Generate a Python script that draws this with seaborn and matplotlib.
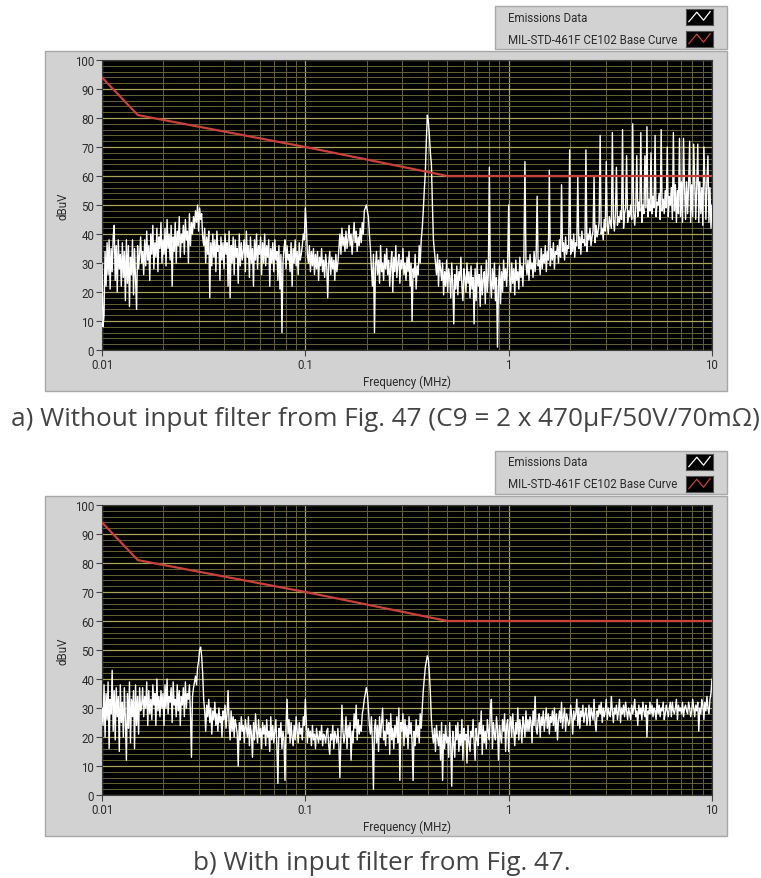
import numpy as np
import pandas as pd
import matplotlib
matplotlib.use('Agg')
import matplotlib.pyplot as plt
from matplotlib.patches import Rectangle
from matplotlib.ticker import FixedLocator, FixedFormatter, LogLocator, MultipleLocator, NullFormatter
import seaborn as sns

# receiver sweep points: 200 per decade, 10 kHz .. 10 MHz
freq_mhz = np.logspace(-2, 1, 601)

# a) without input filter (dBuV), one row = 0.1 decade
emis_no_filter = [
    30, 8, 12, 34, 22, 37, 26, 38, 21, 35, 27, 39, 43, 24, 36, 20, 38, 28, 33, 22,   # 0.0100
    37, 25, 34, 17, 38, 23, 36, 15, 32, 26, 38, 19, 35, 24, 14, 36, 28, 33, 39, 30,  # 0.0126
    34, 26, 38, 29, 41, 31, 36, 24, 40, 33, 43, 28, 37, 32, 42, 27, 39, 35, 44, 30,  # 0.0158
    38, 33, 42, 29, 45, 35, 40, 31, 43, 22, 39, 34, 44, 30, 41, 36, 46, 32, 40, 37,  # 0.0200
    43, 33, 45, 38, 41, 30, 47, 36, 44, 40, 46, 42, 48, 44, 50, 41, 49, 45, 47, 39,  # 0.0251
    36, 42, 30, 39, 33, 41, 18, 37, 29, 40, 32, 38, 27, 41, 34, 36, 24, 39, 31, 37,  # 0.0316
    28, 40, 33, 37, 22, 41, 18, 36, 30, 39, 26, 38, 32, 35, 23, 40, 29, 37, 31, 34,  # 0.0398
    38, 27, 41, 32, 36, 25, 39, 30, 35, 22, 38, 31, 40, 28, 36, 33, 39, 26, 37, 30,  # 0.0501
    40, 29, 36, 32, 38, 22, 35, 30, 37, 27, 38, 31, 34, 24, 36, 21, 33, 6, 30, 35,   # 0.0631
    38, 28, 36, 31, 33, 27, 37, 22, 35, 30, 38, 29, 34, 26, 37, 31, 33, 36, 40, 38,  # 0.0794
    49, 43, 33, 30, 36, 27, 34, 29, 35, 26, 33, 28, 34, 24, 32, 29, 35, 27, 31, 25,  # 0.100
    33, 29, 18, 30, 34, 26, 32, 28, 31, 24, 33, 27, 30, 35, 40, 33, 42, 36, 39, 34,  # 0.126
    41, 35, 38, 43, 36, 40, 33, 39, 44, 37, 41, 34, 39, 36, 42, 37, 44, 40, 48, 49,  # 0.158
    50, 48, 46, 40, 35, 28, 22, 33, 6, 29, 34, 26, 31, 23, 36, 27, 30, 24, 33, 28,   # 0.200
    35, 26, 31, 22, 29, 34, 20, 32, 27, 36, 25, 30, 33, 23, 31, 28, 35, 26, 30, 24,  # 0.251
    32, 27, 34, 22, 30, 10, 28, 25, 33, 21, 29, 26, 36, 30, 38, 42, 48, 55, 61, 72,  # 0.316
    81, 79, 74, 68, 64, 50, 38, 34, 30, 26, 33, 22, 31, 28, 24, 30, 19, 27, 22, 31,  # 0.398
    20, 28, 25, 18, 30, 23, 9, 26, 21, 29, 19, 27, 24, 32, 22, 17, 28, 25, 20, 30,   # 0.501
    23, 27, 18, 29, 21, 25, 9, 28, 17, 30, 22, 26, 15, 29, 19, 24, 27, 16, 31, 20,   # 0.631
    26, 63, 24, 18, 28, 21, 30, 17, 25, 1, 22, 29, 16, 27, 20, 31, 24, 28, 22, 30,   # 0.794
    50, 25, 20, 30, 23, 28, 19, 31, 24, 27, 21, 32, 25, 29, 22, 33, 65, 30, 26, 31,  # 1.00
    24, 33, 28, 30, 25, 34, 27, 32, 53, 29, 31, 26, 35, 28, 33, 30, 36, 27, 34, 31,  # 1.26
    62, 29, 35, 31, 37, 28, 34, 33, 36, 30, 38, 32, 57, 34, 37, 31, 39, 33, 36, 35,  # 1.58
    69, 33, 38, 34, 40, 32, 37, 36, 60, 35, 39, 33, 41, 37, 38, 36, 69, 34, 40, 38,  # 2.00
    42, 36, 39, 41, 60, 37, 43, 39, 41, 44, 74, 40, 42, 38, 45, 41, 65, 43, 40, 46,  # 2.51
    44, 42, 75, 45, 41, 47, 63, 43, 46, 44, 48, 45, 76, 42, 47, 49, 67, 44, 48, 46,  # 3.16
    50, 45, 78, 47, 43, 49, 67, 46, 51, 48, 75, 44, 50, 47, 67, 49, 77, 46, 52, 48,  # 3.98
    68, 47, 53, 49, 74, 46, 51, 50, 54, 45, 76, 48, 52, 47, 55, 49, 70, 46, 53, 50,  # 5.01
    56, 45, 75, 48, 57, 44, 55, 47, 73, 46, 58, 44, 73, 56, 45, 58, 47, 57, 72, 44,  # 6.31
    57, 46, 71, 58, 45, 57, 71, 44, 58, 47, 56, 43, 70, 57, 45, 58, 67, 44, 56, 42,  # 7.94
    50,
]

# b) with input filter (dBuV)
emis_with_filter = [
    30, 24, 38, 20, 35, 26, 39, 16, 33, 28, 43, 22, 36, 19, 37, 27, 34, 15, 38, 25,  # 0.0100
    32, 20, 37, 26, 12, 35, 23, 39, 18, 33, 27, 36, 16, 38, 24, 34, 21, 37, 29, 31,  # 0.0126
    37, 27, 34, 30, 39, 24, 36, 28, 33, 26, 38, 31, 35, 24, 40, 29, 34, 27, 36, 30,  # 0.0158
    35, 24, 38, 30, 40, 28, 34, 32, 37, 25, 39, 31, 33, 27, 38, 29, 36, 24, 34, 31,  # 0.0200
    37, 27, 39, 30, 35, 33, 38, 28, 13, 34, 37, 39, 41, 38, 44, 46, 50, 51, 48, 42,  # 0.0251
    33, 29, 22, 31, 27, 33, 25, 30, 21, 29, 26, 32, 24, 28, 22, 30, 25, 27, 20, 29,  # 0.0316
    26, 31, 23, 28, 36, 25, 19, 29, 22, 27, 20, 26, 24, 21, 10, 25, 19, 27, 22, 24,  # 0.0398
    18, 26, 23, 20, 27, 17, 24, 21, 13, 25, 19, 28, 22, 18, 26, 20, 23, 16, 25, 21,  # 0.0501
    24, 17, 26, 20, 22, 15, 27, 19, 24, 18, 22, 26, 17, 4, 23, 20, 25, 16, 22, 19,   # 0.0631
    5, 24, 33, 21, 26, 18, 25, 20, 17, 24, 19, 27, 22, 18, 25, 21, 23, 19, 27, 24,   # 0.0794
    33, 25, 18, 23, 20, 22, 17, 24, 19, 21, 16, 23, 20, 18, 22, 19, 24, 17, 21, 20,  # 0.100
    18, 22, 23, 17, 14, 21, 19, 24, 16, 22, 20, 18, 23, 17, 6, 20, 31, 22, 18, 21,   # 0.126
    27, 16, 24, 20, 25, 12, 22, 18, 28, 23, 31, 19, 26, 21, 24, 22, 28, 30, 33, 35,  # 0.158
    37, 35, 30, 24, 21, 27, 18, 2, 23, 26, 18, 24, 15, 27, 20, 25, 30, 19, 22, 17,   # 0.200
    26, 21, 25, 14, 28, 19, 23, 16, 24, 20, 27, 18, 30, 5, 25, 22, 28, 17, 26, 20,   # 0.251
    24, 16, 27, 21, 25, 18, 5, 22, 17, 26, 20, 24, 18, 28, 23, 30, 36, 40, 44, 46,   # 0.316
    48, 47, 42, 35, 26, 21, 18, 23, 15, 24, 20, 17, 22, 12, 25, 5, 21, 16, 24, 18,   # 0.398
    20, 13, 25, 17, 3, 22, 18, 13, 24, 19, 25, 15, 21, 17, 26, 12, 23, 19, 21, 11,   # 0.501
    24, 18, 15, 22, 20, 26, 18, 12, 23, 19, 17, 25, 21, 29, 14, 24, 18, 22, 16, 26,  # 0.631
    22, 19, 29, 33, 16, 25, 21, 19, 27, 23, 12, 24, 20, 18, 26, 22, 28, 15, 24, 26,  # 0.794
    15, 24, 27, 20, 28, 22, 17, 25, 21, 30, 19, 26, 23, 18, 27, 24, 20, 29, 22, 26,  # 1.00
    22, 27, 25, 18, 29, 24, 34, 23, 21, 26, 28, 20, 27, 24, 29, 22, 26, 30, 23, 28,  # 1.26
    21, 27, 25, 29, 24, 30, 22, 28, 19, 26, 29, 25, 32, 23, 27, 30, 22, 28, 26, 24,  # 1.58
    25, 31, 27, 21, 29, 26, 28, 33, 24, 30, 23, 29, 27, 31, 25, 28, 30, 24, 27, 31,  # 2.00
    24, 30, 28, 26, 33, 25, 22, 29, 27, 31, 28, 32, 25, 30, 27, 29, 33, 26, 30, 28,  # 2.51
    27, 34, 29, 25, 30, 28, 31, 26, 29, 33, 25, 30, 28, 31, 27, 32, 29, 26, 30, 28,  # 3.16
    26, 31, 28, 30, 33, 27, 29, 24, 31, 28, 30, 26, 32, 29, 27, 31, 20, 29, 28, 32,  # 3.98
    28, 31, 27, 30, 29, 26, 33, 28, 31, 27, 30, 29, 32, 26, 28, 31, 29, 27, 30, 32,  # 5.01
    27, 32, 29, 28, 30, 33, 26, 31, 29, 30, 28, 32, 27, 30, 31, 29, 28, 32, 30, 27,  # 6.31
    29, 33, 30, 27, 31, 29, 32, 22, 30, 28, 33, 31, 26, 32, 29, 34, 30, 28, 33, 35,  # 7.94
    40,
]

# MIL-STD-461F CE102 base curve
limit_freq = [0.01, 0.015, 0.1, 0.5, 10]
limit_dbuv = [94, 81, 70, 60, 60]

xtick_vals = [0.01, 0.1, 1, 10]
xtick_labels = ['0.01', '0.1', '1', '10']
ytick_vals = list(range(0, 101, 10))
legend_labels = ['Emissions Data', 'MIL-STD-461F CE102 Base Curve']
captions = ['a) Without input filter from Fig. 47 (C9 = 2 x 470µF/50V/70mΩ)',
            'b) With input filter from Fig. 47.']

W, H = 761, 879
sns.set_style('dark')
plt.rcParams['font.family'] = ['Roboto', 'DejaVu Sans']

FRAME = '#d2d2d2'
MAJOR = '#a9a45c'
MINOR = '#646234'
RED = '#c8413a'
LABEL = '#2b2b2b'


def box(x, y, w, h):
    # pixel box (top-left origin) -> figure fraction
    return [x / W, 1 - (y + h) / H, w / W, h / H]


def draw_panel(fig, top, values, caption, cap_x, cap_y):
    # grey panel frame and legend block, kept behind the axes
    fx, fy, fw, fh = box(45, top + 52, 682, 340)
    fig.add_artist(Rectangle((fx, fy), fw, fh, transform=fig.transFigure,
                             facecolor=FRAME, edgecolor='#a8a8a8', lw=1.0, zorder=-10))
    lx, ly, lw_, lh = box(495, top + 7, 232, 43)
    fig.add_artist(Rectangle((lx, ly), lw_, lh, transform=fig.transFigure,
                             facecolor=FRAME, edgecolor='#a8a8a8', lw=1.0, zorder=-10))
    for k, (lab, col) in enumerate(zip(legend_labels, ['white', RED])):
        yc = top + 18 + k * 22
        fig.text(508 / W, 1 - yc / H, lab, fontsize=8.3, color=LABEL, va='center', ha='left')
        sw = fig.add_axes(box(686, yc - 8, 27, 16))
        sw.set_facecolor('black')
        sw.plot([0.1, 0.4, 0.65, 0.9], [0.2, 0.8, 0.3, 0.85], color=col, lw=0.9)
        sw.set_xlim(0, 1)
        sw.set_ylim(0, 1)
        sw.set_xticks([])
        sw.set_yticks([])
        for s in sw.spines.values():
            s.set_color('#555555')
            s.set_linewidth(0.8)

    ax = fig.add_axes(box(102, top + 61, 610, 290))
    ax.set_facecolor('black')
    df = pd.DataFrame({'freq': freq_mhz, 'dbuv': values})
    lim = pd.DataFrame({'freq': limit_freq, 'dbuv': limit_dbuv})
    sns.lineplot(data=df, x='freq', y='dbuv', ax=ax, color='white', lw=1.0,
                 estimator=None, sort=False, zorder=3)
    sns.lineplot(data=lim, x='freq', y='dbuv', ax=ax, color=RED, lw=1.6,
                 estimator=None, sort=False, zorder=4)
    ax.set_xscale('log')
    ax.set_xlim(0.01, 10)
    ax.set_ylim(0, 100)
    ax.xaxis.set_major_locator(FixedLocator(xtick_vals))
    ax.xaxis.set_major_formatter(FixedFormatter(xtick_labels))
    ax.xaxis.set_minor_locator(LogLocator(base=10, subs=range(2, 10)))
    ax.xaxis.set_minor_formatter(NullFormatter())
    ax.yaxis.set_major_locator(FixedLocator(ytick_vals))
    ax.yaxis.set_minor_locator(MultipleLocator(2))
    ax.grid(which='major', color=MAJOR, lw=0.9)
    ax.grid(which='minor', color=MINOR, lw=0.7)
    ax.set_axisbelow(True)
    ax.tick_params(which='major', length=4, width=0.8, color='#444444',
                   labelsize=8.3, labelcolor=LABEL, pad=1.5, bottom=True, left=True)
    ax.tick_params(which='minor', length=0)
    ax.set_xlabel('Frequency (MHz)', fontsize=8.3, color=LABEL, labelpad=3)
    ax.set_ylabel('dBuV', fontsize=8.3, color=LABEL, labelpad=4)
    for s in ax.spines.values():
        s.set_color('#3a3a3a')
        s.set_linewidth(0.8)

    fig.text(cap_x / W, 1 - cap_y / H, caption, fontsize=18.8, color='#444444',
             ha='center', va='center', family=['Open Sans', 'DejaVu Sans'])
    return ax


fig = plt.figure(figsize=(W / 100, H / 100), dpi=100, facecolor='white')
draw_panel(fig, 0, emis_no_filter, captions[0], 385, 420)
draw_panel(fig, 445, emis_with_filter, captions[1], 382, 864)
fig.savefig('out.png', dpi=100, facecolor='white')
